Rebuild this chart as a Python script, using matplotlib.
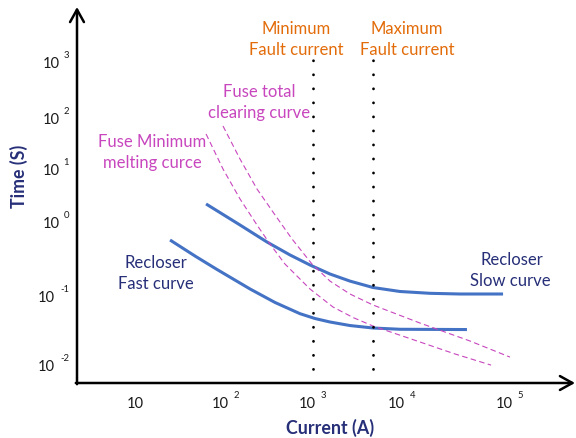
import numpy as np
import matplotlib
matplotlib.use("Agg")
import matplotlib.pyplot as plt

plt.rcParams['font.family'] = ['Lato', 'DejaVu Sans']

# ---------------- data ----------------
slow_current = [60, 144, 294, 543, 923, 1550, 2594, 4700, 9420, 18100, 34400, 86700]
slow_time = [2.19, 0.910, 0.535, 0.356, 0.260, 0.196, 0.157, 0.1284, 0.1134, 0.1071, 0.1048, 0.1048]

fast_current = [24.2, 45.4, 79.1, 188, 365, 708, 1052, 1550, 2594, 4700, 9420, 40000]
fast_time = [0.569, 0.3446, 0.226, 0.1226, 0.0792, 0.0545, 0.0464, 0.0413, 0.0367, 0.0338, 0.0324, 0.0321]

melt_current = [60, 92, 144, 226, 319, 475, 923, 1675, 2805, 4700, 14600, 31000, 67000]
melt_time = [47.9, 10.0, 2.72, 0.910, 0.502, 0.268, 0.1226, 0.0681, 0.048, 0.0361, 0.0212, 0.0142, 0.0098]

clear_current = [92, 144, 226, 365, 573, 973, 1550, 2594, 4700, 14600, 42700, 100600]
clear_time = [68.4, 15.6, 4.19, 1.355, 0.587, 0.268, 0.157, 0.1048, 0.0728, 0.0399, 0.0219, 0.0128]

fault_currents = [1000, 4700]

x_tick_values = [10, 100, 1000, 10000, 100000]
x_tick_exponents = ['', '2', '3', '4', '5']
y_tick_values = [0.01, 0.1, 1, 10, 100, 1000]
y_tick_exponents = ['-2', '-1', '0', '1', '2', '3']

# ---------------- layout (the hand-drawn, uneven decade spacing) ----------------
W, H = 576, 439
X_KNOT_LOG = [0, 1, 2, 3, 4, 5, 6]
X_KNOT_PX = [44, 135, 226.3, 313, 402.3, 509.7, 617]
Y_KNOT_LOG = [-4, -3, -2, -1, 0, 1, 2, 3, 4, 5]
Y_KNOT_PX = [-64.5, 4.5, 73.5, 142.5, 216, 269, 320.5, 376, 430, 484]


def fwd_x(v):
    v = np.clip(np.asarray(v, dtype=float), 1e-12, None)
    return np.interp(np.log10(v), X_KNOT_LOG, X_KNOT_PX)


def inv_x(p):
    return 10 ** np.interp(p, X_KNOT_PX, X_KNOT_LOG)


def fwd_y(v):
    v = np.clip(np.asarray(v, dtype=float), 1e-12, None)
    return np.interp(np.log10(v), Y_KNOT_LOG, Y_KNOT_PX)


def inv_y(p):
    return 10 ** np.interp(p, Y_KNOT_PX, Y_KNOT_LOG)


AX_L, AX_R, AX_B, AX_T = 77, 575, 55, 431  # pixels from bottom-left

fig = plt.figure(figsize=(W / 100, H / 100), dpi=100)
ax = fig.add_axes([AX_L / W, AX_B / H, (AX_R - AX_L) / W, (AX_T - AX_B) / H])
ax.set_xscale('function', functions=(fwd_x, inv_x))
ax.set_yscale('function', functions=(fwd_y, inv_y))
ax.set_xlim(float(inv_x(AX_L)), float(inv_x(AX_R)))
ax.set_ylim(float(inv_y(AX_B)), float(inv_y(AX_T)))
for s in ax.spines.values():
    s.set_visible(False)
ax.set_xticks([])
ax.set_yticks([])
ax.patch.set_alpha(0)

BLUE = '#4472C4'
MAGENTA = '#C846BE'
ORANGE = '#E36C0A'
NAVY = '#262F78'

# curves
ax.plot(slow_current, slow_time, color=BLUE, lw=2.2, solid_capstyle='butt', solid_joinstyle='round')
ax.plot(fast_current, fast_time, color=BLUE, lw=2.2, solid_capstyle='butt', solid_joinstyle='round')
ax.plot(melt_current, melt_time, color=MAGENTA, lw=0.8, dashes=(5, 3))
ax.plot(clear_current, clear_time, color=MAGENTA, lw=0.8, dashes=(5, 3))

# fault current dotted lines
for fc in fault_currents:
    ax.axvline(fc, ymin=0, ymax=(379 - AX_B) / (AX_T - AX_B), color='black', lw=2.0,
               linestyle=(0, (0.05, 5.0)), dash_capstyle='round')

# axis arrows
arrow = dict(arrowstyle='->,head_length=0.45,head_width=0.25', lw=1.8, color='black',
             shrinkA=0, shrinkB=0, mutation_scale=20)
ax.annotate('', xy=(AX_L, AX_T), xytext=(AX_L, AX_B - 1.2), xycoords='figure pixels',
            textcoords='figure pixels', arrowprops=arrow)
ax.annotate('', xy=(AX_R, AX_B), xytext=(AX_L - 1.2, AX_B), xycoords='figure pixels',
            textcoords='figure pixels', arrowprops=arrow)

PT = 72 / 100  # points per pixel
TICK_FS = 10.6
EXP_FS = 6.8

# x tick labels
for v, e in zip(x_tick_values, x_tick_exponents):
    if e == '':
        ax.annotate('10', xy=(v, 0), xycoords=('data', 'axes fraction'),
                    xytext=(0, -24.3 * PT), textcoords='offset points',
                    ha='center', va='baseline', fontsize=TICK_FS, color='#1a1a1a')
    else:
        ax.annotate('10', xy=(v, 0), xycoords=('data', 'axes fraction'),
                    xytext=(3 * PT, -24.3 * PT), textcoords='offset points',
                    ha='right', va='baseline', fontsize=TICK_FS, color='#1a1a1a')
        ax.annotate(e, xy=(v, 0), xycoords=('data', 'axes fraction'),
                    xytext=(7.7 * PT, -14.3 * PT), textcoords='offset points',
                    ha='left', va='baseline', fontsize=EXP_FS, color='#1a1a1a')

# y tick labels
for v, e in zip(y_tick_values, y_tick_exponents):
    ax.annotate(e, xy=(0, v), xycoords=('axes fraction', 'data'),
                xytext=(-8 * PT, 4.7 * PT), textcoords='offset points',
                ha='right', va='baseline', fontsize=EXP_FS, color='#1a1a1a')
    ax.annotate('10', xy=(0, v), xycoords=('axes fraction', 'data'),
                xytext=(-(13 + 4.5 * len(e)) * PT, -5.3 * PT), textcoords='offset points',
                ha='right', va='baseline', fontsize=TICK_FS, color='#1a1a1a')


def ftext(x, y_base, s, color, fs=12, **kw):
    fig.text(x / W, 1 - y_base / H, s, color=color, fontsize=fs, ha='center', va='baseline', **kw)


ftext(296.5, 34, 'Minimum', ORANGE)
ftext(296.5, 55, 'Fault current', ORANGE)
ftext(407, 34, 'Maximum', ORANGE)
ftext(407, 55, 'Fault current', ORANGE)
ftext(259, 97.3, 'Fuse total', MAGENTA)
ftext(259, 118.3, 'clearing curve', MAGENTA)
ftext(152, 146.7, 'Fuse Minimum', MAGENTA)
ftext(152, 167.7, 'melting curce', MAGENTA)
ftext(156, 268.3, 'Recloser', NAVY)
ftext(156, 289.3, 'Fast curve', NAVY)
ftext(512, 265, 'Recloser', NAVY)
ftext(510, 286, 'Slow curve', NAVY)

ftext(330, 434, 'Current (A)', NAVY, fs=12.8, fontweight='bold')
fig.text(25 / W, 1 - 176 / H, 'Time (S)', color=NAVY, fontsize=12.8, fontweight='bold',
         rotation=90, ha='center', va='baseline', rotation_mode='anchor')

fig.savefig('out.png', dpi=100)
